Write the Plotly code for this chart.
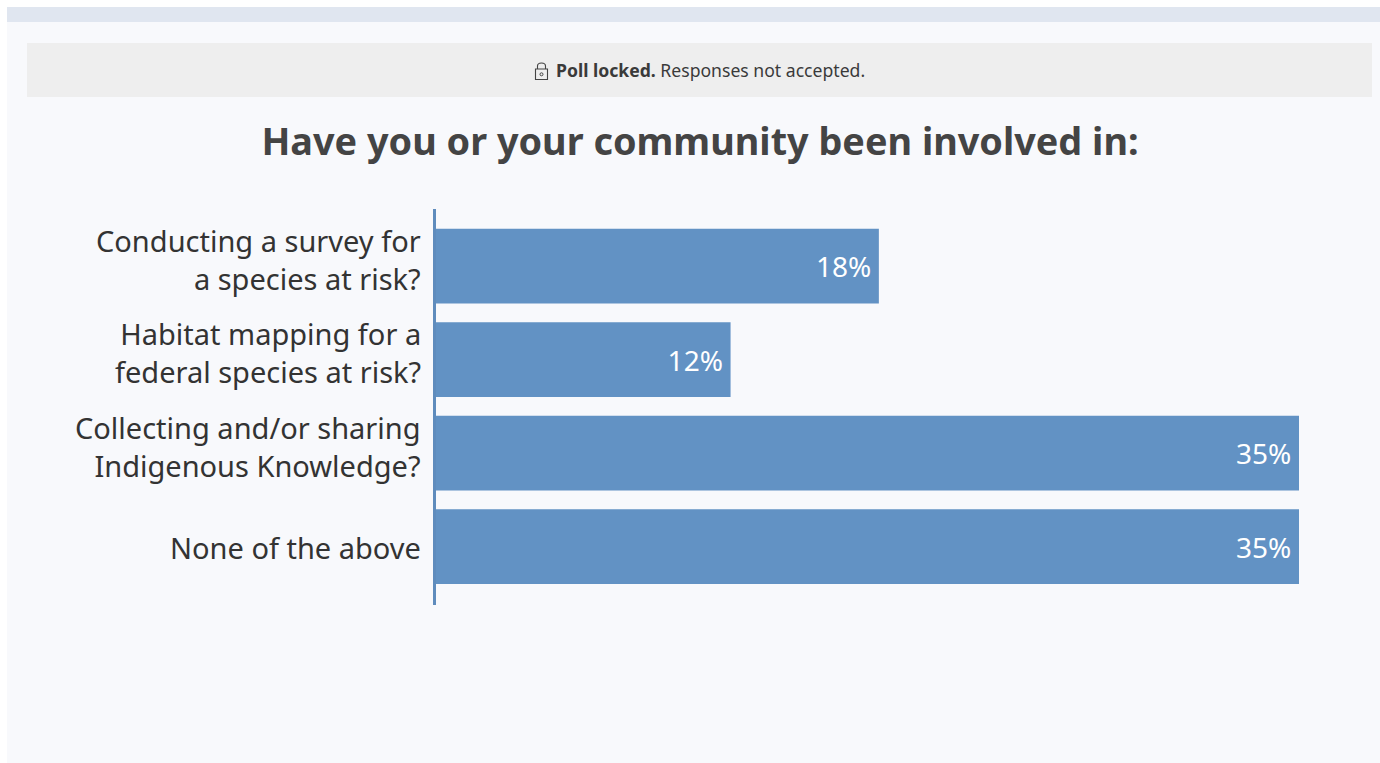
import plotly.graph_objects as go

W, H = 1380, 763

categories = [
    "Conducting a survey for<br>a species at risk?",
    "Habitat mapping for a<br>federal species at risk?",
    "Collecting and/or sharing<br>Indigenous Knowledge?",
    "None of the above",
]
percent_values = [18, 12, 35, 35]
title_text = "Have you or your community been involved in:"
notice_bold = "Poll locked."
notice_plain = "Responses not accepted."

BAR_BLUE = "#6292c4"
AXIS_BLUE = "#5f8cbd"
FONT = "Noto Sans, sans-serif"


def px(x):
    return x / W


def py(y):
    return 1 - y / H


def box(x0, y0, x1, y1, color):
    return dict(type="rect", xref="paper", yref="paper", layer="below",
                x0=px(x0), x1=px(x1), y0=py(y0), y1=py(y1),
                fillcolor=color, line_width=0)


fig = go.Figure(
    go.Bar(
        x=percent_values,
        y=categories,
        orientation="h",
        marker=dict(color=BAR_BLUE, line_width=0),
        # thin space keeps the value clear of the bar end
        text=[f"{v}%\u2009" for v in percent_values],
        textposition="inside",
        insidetextanchor="end",
        textangle=0,
        textfont=dict(family=FONT, size=28, color="#ffffff"),
        constraintext="none",
        hoverinfo="skip",
    )
)

# Page furniture: header strip, card background, notice bar, padlock icon
shapes = [
    box(7, 22, W, H, "#f8f9fc"),
    box(7, 7, W, 22, "#e0e6f0"),
    box(27, 43, 1372, 97, "#eeeeee"),
    dict(type="rect", xref="paper", yref="paper",
         x0=px(535.5), x1=px(547.5), y0=py(79.5), y1=py(69),
         line=dict(color="#444444", width=1.1), fillcolor="rgba(0,0,0,0)"),
    dict(type="path", xref="paper", yref="paper",
         path=(f"M {px(537.5)} {py(69)} L {px(537.5)} {py(66)} "
               f"Q {px(537.5)} {py(63)} {px(541.5)} {py(63)} "
               f"Q {px(545.5)} {py(63)} {px(545.5)} {py(66)} "
               f"L {px(545.5)} {py(69)}"),
         line=dict(color="#444444", width=1.1)),
    dict(type="circle", xref="paper", yref="paper",
         x0=px(540), x1=px(543), y0=py(75.8), y1=py(72.8),
         line=dict(color="#444444", width=1), fillcolor="rgba(0,0,0,0)"),
]

# Category labels sit left of the axis; wrapped ones ride a little high
category_labels = [
    dict(
        text=label, x=0, y=label, xref="x", yref="y",
        xanchor="right", yanchor="middle", align="right",
        xshift=-11, yshift=7 if "<br>" in label else -1,
        showarrow=False,
        font=dict(family=FONT, size=29, color="#333333"),
    )
    for label in categories
]

fig.update_layout(
    width=W,
    height=H,
    margin=dict(l=0, r=0, t=0, b=0),
    paper_bgcolor="#ffffff",
    plot_bgcolor="rgba(0,0,0,0)",
    showlegend=False,
    bargap=0.2,
    shapes=shapes,
    title=dict(
        text=f"<b>{title_text}</b>",
        x=700 / W, xanchor="center", xref="paper",
        y=py(142), yanchor="middle", yref="container",
        font=dict(family=FONT, size=37.8, color="#444444"),
    ),
    annotations=[
        dict(
            text=f"<b>{notice_bold}</b> {notice_plain}",
            xref="paper", yref="paper",
            x=px(554), y=py(70), xanchor="left", yanchor="middle",
            showarrow=False,
            font=dict(family=FONT, size=17.6, color="#3a3a3a"),
        )
    ]
    + category_labels,
    xaxis=dict(
        domain=[px(434), px(1299)],
        range=[0, 35],
        visible=False,
        fixedrange=True,
    ),
    yaxis=dict(
        domain=[py(605), py(209)],
        type="category",
        categoryorder="array",
        categoryarray=categories,
        range=[3.625, -0.61],
        anchor="free",
        position=px(434),
        showgrid=False,
        zeroline=False,
        showline=True,
        linecolor=AXIS_BLUE,
        linewidth=3,
        showticklabels=False,
        ticks="",
        fixedrange=True,
    ),
)

fig.write_html("out.html", config={"displayModeBar": False})
